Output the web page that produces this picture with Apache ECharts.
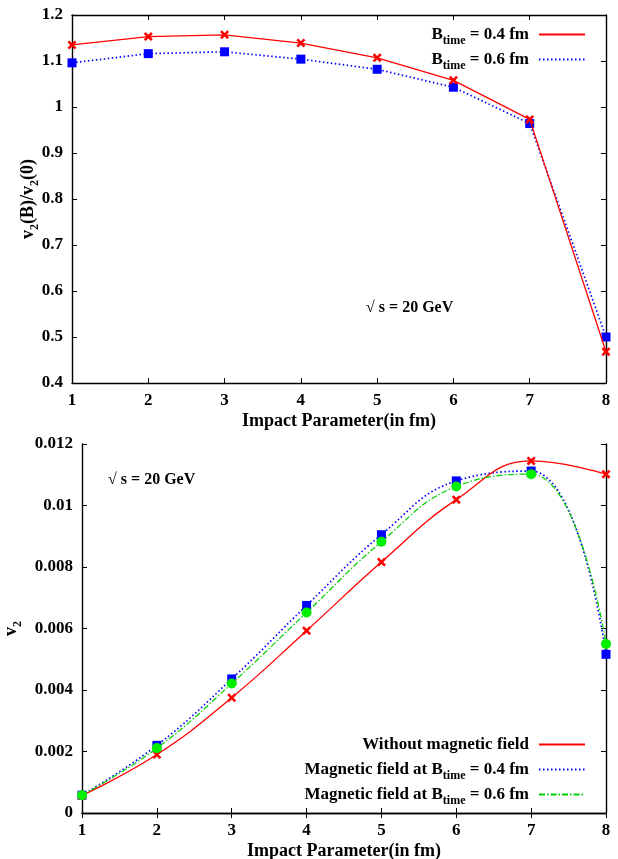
<!DOCTYPE html>
<html>
<head>
<meta charset="utf-8">
<script src="https://cdn.jsdelivr.net/npm/echarts@6/dist/echarts.min.js"></script>
<style>
html,body{margin:0;padding:0;background:#fff;}
#chart{width:618px;height:859px;}
</style>
</head>
<body>
<div id="chart"></div>
<script>
// ---- data ----
const impactParam = [1, 2, 3, 4, 5, 6, 7, 8];
const ratioB04 = [1.135, 1.153, 1.157, 1.139, 1.107, 1.058, 0.973, 0.468];
const ratioB06 = [1.096, 1.116, 1.120, 1.104, 1.082, 1.043, 0.964, 0.500];
const v2NoField = [0.00057, 0.00190, 0.00375, 0.00593, 0.00816, 0.01019, 0.01145, 0.01102];
const v2B04 = [0.00058, 0.00220, 0.00436, 0.00675, 0.00905, 0.01080, 0.01112, 0.00516];
const v2B06 = [0.00058, 0.00211, 0.00421, 0.00652, 0.00882, 0.01062, 0.01102, 0.00550];
const seriesNames = ['B04', 'B06', 'NoField', 'MF04', 'MF06'];

const FONT = '"Liberation Serif", "Times New Roman", serif';
const pts = arr => impactParam.map((x, i) => [x, arr[i]]);
const X_SYM = 'path://M0,2 L2,0 L5,3 L8,0 L10,2 L7,5 L10,8 L8,10 L5,7 L2,10 L0,8 L3,5 Z';

const legendRich = {
  b: {fontFamily: FONT, fontWeight: 'bold', fontSize: 17, color: '#000', lineHeight: 20, verticalAlign: 'middle'},
  s: {fontFamily: FONT, fontWeight: 'bold', fontSize: 12, color: '#000', lineHeight: 25, verticalAlign: 'bottom'}
};
const legendText = {
  B04: '{b|B}{s|time}{b| = 0.4 fm}',
  B06: '{b|B}{s|time}{b| = 0.6 fm}',
  NoField: '{b|Without magnetic field}',
  MF04: '{b|Magnetic field at B}{s|time}{b| = 0.4 fm}',
  MF06: '{b|Magnetic field at B}{s|time}{b| = 0.6 fm}'
};
// legend row tops (layout)
const legendTops = [26, 51, 736, 761, 786];

const tickLbl = {fontFamily: FONT, fontWeight: 'bold', fontSize: 17, color: '#000', margin: 9};
const nameStyle = {fontFamily: FONT, fontWeight: 'bold', fontSize: 18, color: '#000'};
const axLine = {show: true, lineStyle: {color: '#000', width: 1.4}};
const axTick = {show: true, inside: true, length: 5, lineStyle: {color: '#000', width: 1}};

function xAx(gridIndex, main) {
  return {
    type: 'value', gridIndex, min: 1, max: 8, interval: 1,
    position: main ? 'bottom' : 'top',
    axisLine: axLine, axisTick: axTick, splitLine: {show: false},
    axisLabel: main ? tickLbl : {show: false},
    name: main ? 'Impact Parameter(in fm)' : '',
    nameLocation: 'middle', nameGap: 29, nameTextStyle: nameStyle, nameMoveOverlap: false
  };
}
function yAx(gridIndex, main, min, max, interval, digits, name, gap) {
  return {
    type: 'value', gridIndex, min, max, interval,
    position: main ? 'left' : 'right',
    axisLine: axLine, axisTick: axTick, splitLine: {show: false},
    axisLabel: main ? Object.assign({formatter: v => String(+v.toFixed(digits))}, tickLbl) : {show: false},
    name: main ? name : '', nameLocation: 'middle', nameGap: gap, nameRotate: 90, nameMoveOverlap: false,
    nameTextStyle: Object.assign({rich: {
      n: {fontFamily: FONT, fontWeight: 'bold', fontSize: 18, color: '#000', lineHeight: 22},
      s: {fontFamily: FONT, fontWeight: 'bold', fontSize: 12, color: '#000', lineHeight: 26, verticalAlign: 'bottom'}
    }}, nameStyle)
  };
}

const redLine = {color: '#ff0000', width: 1.3, type: 'solid'};
const blueLine = {color: '#0000ff', width: 1.7, type: [1.5, 2.5]};
const greenLine = {color: '#00d000', width: 1.2, type: [6, 2, 1.5, 2]};

const legends = seriesNames.map((n, i) => ({
  data: [n], top: legendTops[i],
  orient: 'vertical', right: 32, align: 'right',
  itemWidth: 46, itemHeight: 14, itemGap: 0, padding: 0,
  formatter: nm => legendText[nm],
  textStyle: {rich: legendRich, padding: [0, 5, 0, 0]},
  itemStyle: {opacity: 0}
}));

const option = {
  animation: false,
  backgroundColor: '#fff',
  grid: [
    {left: 72, top: 15, right: 12, height: 368, outerBoundsMode: 'none', containLabel: false},
    {left: 82, top: 444, right: 12, height: 369, outerBoundsMode: 'none', containLabel: false}
  ],
  xAxis: [xAx(0, true), xAx(0, false), xAx(1, true), xAx(1, false)],
  yAxis: [
    yAx(0, true, 0.4, 1.2, 0.1, 1, '{n|v}{s|2}{n|(B)/v}{s|2}{n|(0)}', 31),
    yAx(0, false, 0.4, 1.2, 0.1, 1, '', 0),
    yAx(1, true, 0, 0.012, 0.002, 3, '{n|v}{s|2}', 58),
    yAx(1, false, 0, 0.012, 0.002, 3, '', 0)
  ],
  legend: legends,
  graphic: [
    {type: 'text', left: 366, top: 300, style: {text: '√ s = 20 GeV', font: 'bold 16px ' + FONT, fill: '#000'}},
    {type: 'text', left: 108, top: 472, style: {text: '√ s = 20 GeV', font: 'bold 16px ' + FONT, fill: '#000'}}
  ],
  series: [
    {name: 'B04', type: 'line', xAxisIndex: 0, yAxisIndex: 0, data: pts(ratioB04), clip: false,
      symbol: X_SYM, symbolSize: 9, itemStyle: {color: '#ff0000'}, lineStyle: redLine, z: 3},
    {name: 'B06', type: 'line', xAxisIndex: 0, yAxisIndex: 0, data: pts(ratioB06), clip: false,
      symbol: 'rect', symbolSize: 9, itemStyle: {color: '#0000ff'}, lineStyle: blueLine, z: 2},
    {name: 'NoField', type: 'line', xAxisIndex: 2, yAxisIndex: 2, data: pts(v2NoField), clip: false, smooth: 0.45,
      symbol: X_SYM, symbolSize: 9, itemStyle: {color: '#ff0000'}, lineStyle: redLine, z: 3},
    {name: 'MF04', type: 'line', xAxisIndex: 2, yAxisIndex: 2, data: pts(v2B04), clip: false, smooth: 0.45,
      symbol: 'rect', symbolSize: 9, itemStyle: {color: '#0000ff'}, lineStyle: blueLine, z: 2},
    {name: 'MF06', type: 'line', xAxisIndex: 2, yAxisIndex: 2, data: pts(v2B06), clip: false, smooth: 0.45,
      symbol: 'circle', symbolSize: 10, itemStyle: {color: '#00f000'}, lineStyle: greenLine, z: 4}
  ]
};

const chart = echarts.init(document.getElementById('chart'), null, {renderer: 'canvas'});
chart.setOption(option);
</script>
</body>
</html>
